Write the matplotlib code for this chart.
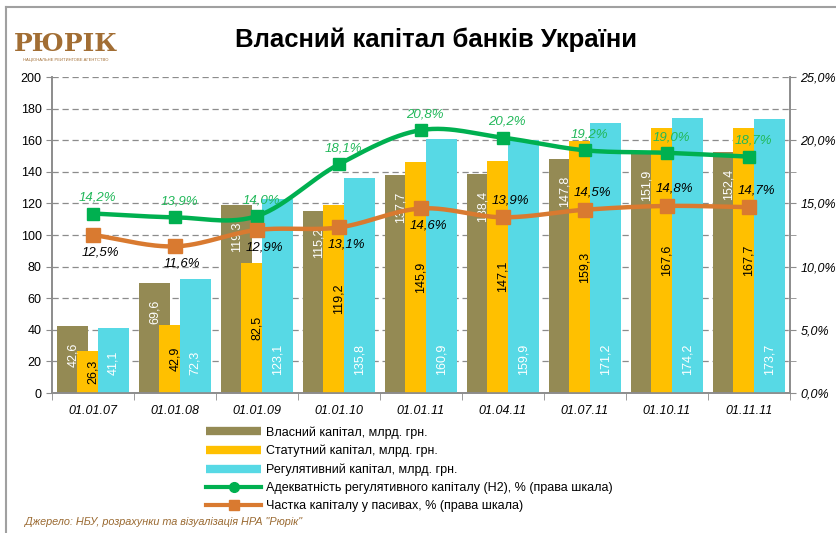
import numpy as np
import matplotlib
matplotlib.use("Agg")
import matplotlib.pyplot as plt
from matplotlib.lines import Line2D
from matplotlib.ticker import MultipleLocator, FuncFormatter

plt.rcParams['font.family'] = ['Liberation Sans', 'DejaVu Sans']

categories = ["01.01.07", "01.01.08", "01.01.09", "01.01.10", "01.01.11",
              "01.04.11", "01.07.11", "01.10.11", "01.11.11"]
own_capital = [42.6, 69.6, 119.3, 115.2, 137.7, 138.4, 147.8, 151.9, 152.4]
statutory_capital = [26.3, 42.9, 82.5, 119.2, 145.9, 147.1, 159.3, 167.6, 167.7]
regulatory_capital = [41.1, 72.3, 123.1, 135.8, 160.9, 159.9, 171.2, 174.2, 173.7]
adequacy_h2 = [14.2, 13.9, 14.0, 18.1, 20.8, 20.2, 19.2, 19.0, 18.7]
capital_share = [12.5, 11.6, 12.9, 13.1, 14.6, 13.9, 14.5, 14.8, 14.7]

legend_labels = ["Власний капітал, млрд. грн.",
                 "Статутний капітал, млрд. грн.",
                 "Регулятивний капітал, млрд. грн.",
                 "Адекватність регулятивного капіталу (Н2), % (права шкала)",
                 "Частка капіталу у пасивах, % (права шкала)"]
title = "Власний капітал банків України"
source = "Джерело: НБУ, розрахунки та візуалізація НРА \"Рюрік\""

C_OLIVE = "#948A54"
C_YELLOW = "#FFC000"
C_CYAN = "#57D9E5"
C_GREEN = "#00B050"
C_ORANGE = "#D97A30"
C_GREENTXT = "#22B85A"
C_GRID = "#8C8C8C"


def fmt(v):
    return f"{v:.1f}".replace(".", ",")


def smooth(xs, ys, n=30):
    xs = np.asarray(xs, float)
    ys = np.asarray(ys, float)
    px = np.concatenate([[2 * xs[0] - xs[1]], xs, [2 * xs[-1] - xs[-2]]])
    py = np.concatenate([[2 * ys[0] - ys[1]], ys, [2 * ys[-1] - ys[-2]]])
    ox, oy = [], []
    t = np.linspace(0, 1, n)
    for i in range(1, len(px) - 2):
        for P, out in ((px, ox), (py, oy)):
            p0, p1, p2, p3 = P[i - 1], P[i], P[i + 1], P[i + 2]
            seg = 0.5 * ((2 * p1) + (-p0 + p2) * t +
                         (2 * p0 - 5 * p1 + 4 * p2 - p3) * t ** 2 +
                         (-p0 + 3 * p1 - 3 * p2 + p3) * t ** 3)
            out.extend(seg if i == 1 else seg[1:])
    return np.array(ox), np.array(oy)


fig = plt.figure(figsize=(8.36, 5.33), dpi=100)
ax = fig.add_axes([52 / 836, 1 - 393 / 533, 738 / 836, 316 / 533])
ax2 = ax.twinx()

x = np.arange(len(categories))
w = 0.38
off = 0.245
b1 = ax.bar(x - off, own_capital, w, color=C_OLIVE, zorder=2)
b2 = ax.bar(x, statutory_capital, w, color=C_YELLOW, zorder=3)
b3 = ax.bar(x + off, regulatory_capital, w, color=C_CYAN, zorder=4)

for xi, v in zip(x, own_capital):
    ax.annotate(fmt(v), (xi - off, v), xytext=(0, -12), textcoords="offset points",
                rotation=90, ha="center", va="top", color="white", fontsize=9, zorder=6)
for xi, v in zip(x, statutory_capital):
    ax.text(xi, v / 2, fmt(v), rotation=90, ha="center", va="center",
            color="black", fontsize=9, zorder=6)
for xi, v in zip(x, regulatory_capital):
    ax.annotate(fmt(v), (xi + off, 0), xytext=(0, 13), textcoords="offset points",
                rotation=90, ha="center", va="bottom", color="white", fontsize=9, zorder=6)

ax.set_xlim(-0.5, len(categories) - 0.5)
ax.set_ylim(0, 200)
ax.yaxis.set_major_locator(MultipleLocator(20))
ax.grid(axis="y", color=C_GRID, linestyle=(0, (5, 3)), linewidth=0.9, zorder=0)
ax.set_axisbelow(True)
ax.set_xticks(x)
ax.set_xticklabels(categories, fontstyle="italic", fontsize=9)
ax.set_xticks(np.arange(-0.5, len(categories)), minor=True)
ax.tick_params(axis="x", which="major", length=0, pad=9)
ax.tick_params(axis="x", which="minor", length=5, color=C_GRID)
ax.tick_params(axis="y", length=4, color=C_GRID, labelsize=9)

for a in (ax, ax2):
    for s in ("top",):
        a.spines[s].set_visible(False)
    for s in ("left", "right", "bottom"):
        a.spines[s].set_color(C_GRID)
        a.spines[s].set_linewidth(1.2)

ax2.set_ylim(0, 25)
ax2.yaxis.set_major_locator(MultipleLocator(5))
ax2.yaxis.set_minor_locator(MultipleLocator(2.5))
ax2.yaxis.set_major_formatter(FuncFormatter(lambda v, p: fmt(v) + "%"))
ax2.tick_params(axis="y", which="both", length=4, color=C_GRID, labelsize=9)
for lab in ax2.get_yticklabels():
    lab.set_fontstyle("italic")

sx, sy = smooth(x, adequacy_h2)
ax2.plot(sx, sy, color=C_GREEN, lw=3.2, zorder=5, solid_capstyle="round")
ax2.plot(x, adequacy_h2, "s", color=C_GREEN, ms=8, zorder=6)
sx, sy = smooth(x, capital_share)
ax2.plot(sx, sy, color=C_ORANGE, lw=3.2, zorder=5, solid_capstyle="round")
ax2.plot(x, capital_share, "s", color=C_ORANGE, ms=10, zorder=6)

for xi, v in zip(x, adequacy_h2):
    ax2.annotate(fmt(v) + "%", (xi, v), xytext=(3, 7), textcoords="offset points",
                 ha="center", va="bottom", color=C_GREENTXT, fontsize=9.5,
                 fontstyle="italic", zorder=7)
placement = ["below", "below", "below", "below", "below", "above", "above", "above", "above"]
for xi, v, pl in zip(x, capital_share, placement):
    dy = -8 if pl == "below" else 8
    ax2.annotate(fmt(v) + "%", (xi, v), xytext=(5, dy), textcoords="offset points",
                 ha="center", va="top" if pl == "below" else "bottom", color="black",
                 fontsize=9.5, fontstyle="italic", zorder=7)

handles = [Line2D([], [], color=C_OLIVE, lw=6, solid_capstyle="butt"),
           Line2D([], [], color=C_YELLOW, lw=6, solid_capstyle="butt"),
           Line2D([], [], color=C_CYAN, lw=6, solid_capstyle="butt"),
           Line2D([], [], color=C_GREEN, lw=3, marker="o", ms=7),
           Line2D([], [], color=C_ORANGE, lw=3, marker="s", ms=7)]
fig.legend(handles, legend_labels, loc="upper left",
           bbox_to_anchor=(200 / 836, 1 - 420 / 533), frameon=False, fontsize=9,
           handlelength=4.4, handletextpad=0.4, labelspacing=0.49, borderpad=0)

fig.text(436 / 836, 1 - 40 / 533, title, ha="center", va="center",
         fontsize=18.5, fontweight="bold")
fig.text(25 / 836, 1 - 522 / 533, source, ha="left", va="center",
         fontsize=7.8, fontstyle="italic", color="#9A6A32")

# logo
fig.text(66 / 836, 1 - 44 / 533, "РЮРІК", ha="center", va="center",
         fontsize=18, fontweight="bold", family="DejaVu Serif", color="#A26E34")
fig.text(66 / 836, 1 - 60 / 533, "НАЦІОНАЛЬНЕ РЕЙТИНГОВЕ АГЕНТСТВО", ha="center",
         va="center", fontsize=3, color="#A26E34")

# frame
fig.add_artist(Line2D([5.5 / 836, 5.5 / 836], [0, 1 - 7 / 533], transform=fig.transFigure,
                      color="#A0A0A0", lw=1.5))
fig.add_artist(Line2D([5.5 / 836, 1], [1 - 7 / 533, 1 - 7 / 533], transform=fig.transFigure,
                      color="#A0A0A0", lw=1.5))

fig.savefig("out.png", dpi=100)
